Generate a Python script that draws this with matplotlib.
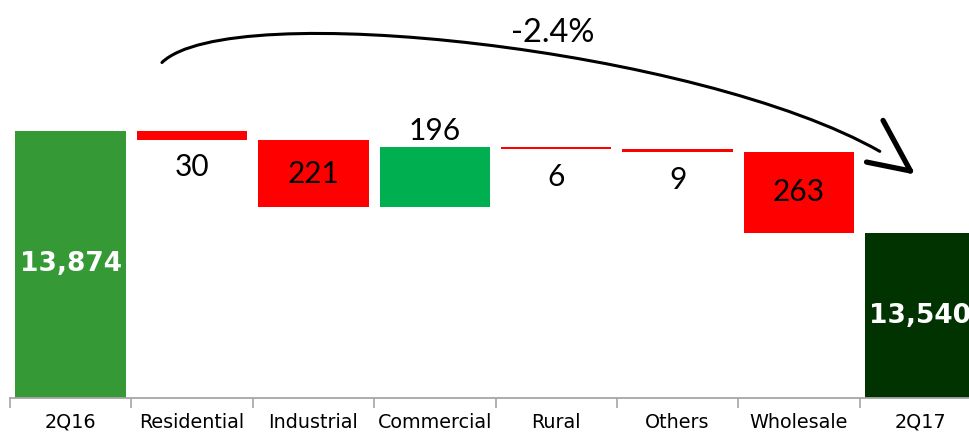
#!/usr/bin/env python3
"""Waterfall: 2Q16 -> 2Q17 by customer class."""
import numpy as np
import matplotlib
matplotlib.use("Agg")
import matplotlib.pyplot as plt
from matplotlib.path import Path
from matplotlib.patches import PathPatch

categories = ["2Q16", "Residential", "Industrial", "Commercial",
              "Rural", "Others", "Wholesale", "2Q17"]
start_total = 13874
deltas = [-30, -221, 196, -6, -9, -263]
end_total = 13540
change_label = "-2.4%"
# where each delta label sits relative to its bar
label_place = ["below", "in", "above", "below", "below", "in"]

Y_MIN, Y_MAX = 13000, 14300

C_START = "#359935"
C_END = "#003300"
C_NEG = "#ff0000"
C_POS = "#00b050"
VAL_FONT = "Lato"

fig = plt.figure(figsize=(9.69, 4.33), dpi=100)
ax = fig.add_axes([10 / 969, 34.7 / 433, 971 / 969, 398.3 / 433])

x = np.arange(len(categories))
w = 0.91

# totals
ax.bar(x[0], start_total - Y_MIN, w, bottom=Y_MIN, color=C_START)
ax.bar(x[-1], end_total - Y_MIN, w, bottom=Y_MIN, color=C_END)
for xi, v in ((x[0], start_total), (x[-1], end_total)):
    ax.text(xi, (Y_MIN + v) / 2, f"{v:,}", ha="center", va="center",
            color="white", fontsize=19, fontweight="bold",
            family="DejaVu Sans", clip_on=False)

# deltas
level = start_total
for i, (d, place) in enumerate(zip(deltas, label_place)):
    xi = x[i + 1]
    lo, hi = min(level, level + d), max(level, level + d)
    ax.bar(xi, hi - lo, w, bottom=lo, color=C_POS if d > 0 else C_NEG)
    txt = f"{abs(d)}"
    if place == "in":
        ax.text(xi, (lo + hi) / 2, txt, ha="center", va="center",
                fontsize=21.5, family=VAL_FONT)
    elif place == "below":
        ax.annotate(txt, (xi, lo), xytext=(0, -20), textcoords="offset points",
                    ha="center", va="center", fontsize=21.5, family=VAL_FONT)
    else:
        ax.annotate(txt, (xi, hi), xytext=(0, 12), textcoords="offset points",
                    ha="center", va="center", fontsize=21.5, family=VAL_FONT)
    level += d

# curved arrow from start to end
verts = [(0.752, 14096), (1.312, 14310), (5.184, 14140), (6.666, 13806)]
curve = Path(verts, [Path.MOVETO, Path.CURVE4, Path.CURVE4, Path.CURVE4])
ax.add_patch(PathPatch(curve, fill=False, lw=2.2, color="black",
                       capstyle="round", clip_on=False))
tip = (6.919, 13742)
for arm in [(6.693, 13907), (6.557, 13771)]:
    ax.plot([arm[0], tip[0]], [arm[1], tip[1]], color="black", lw=3.8,
            solid_capstyle="round", clip_on=False)
ax.text(3.973, 14191, change_label, ha="center", va="center",
        fontsize=23.5, family=VAL_FONT)

ax.set_xlim(-0.5, len(categories) - 0.5)
ax.set_ylim(Y_MIN, Y_MAX)
ax.set_xticks(x)
ax.set_xticklabels(categories, fontsize=13.8, family="DejaVu Sans")
ax.set_xticks(np.arange(len(categories) + 1) - 0.5, minor=True)
ax.tick_params(axis="x", which="major", length=0, pad=10.5)
ax.tick_params(axis="x", which="minor", length=7, width=1.2, color="#a6a6a6")
ax.set_yticks([])
for s in ("top", "right", "left"):
    ax.spines[s].set_visible(False)
ax.spines["bottom"].set_color("#a6a6a6")
ax.spines["bottom"].set_linewidth(1.3)

fig.savefig("out.png", dpi=100)
